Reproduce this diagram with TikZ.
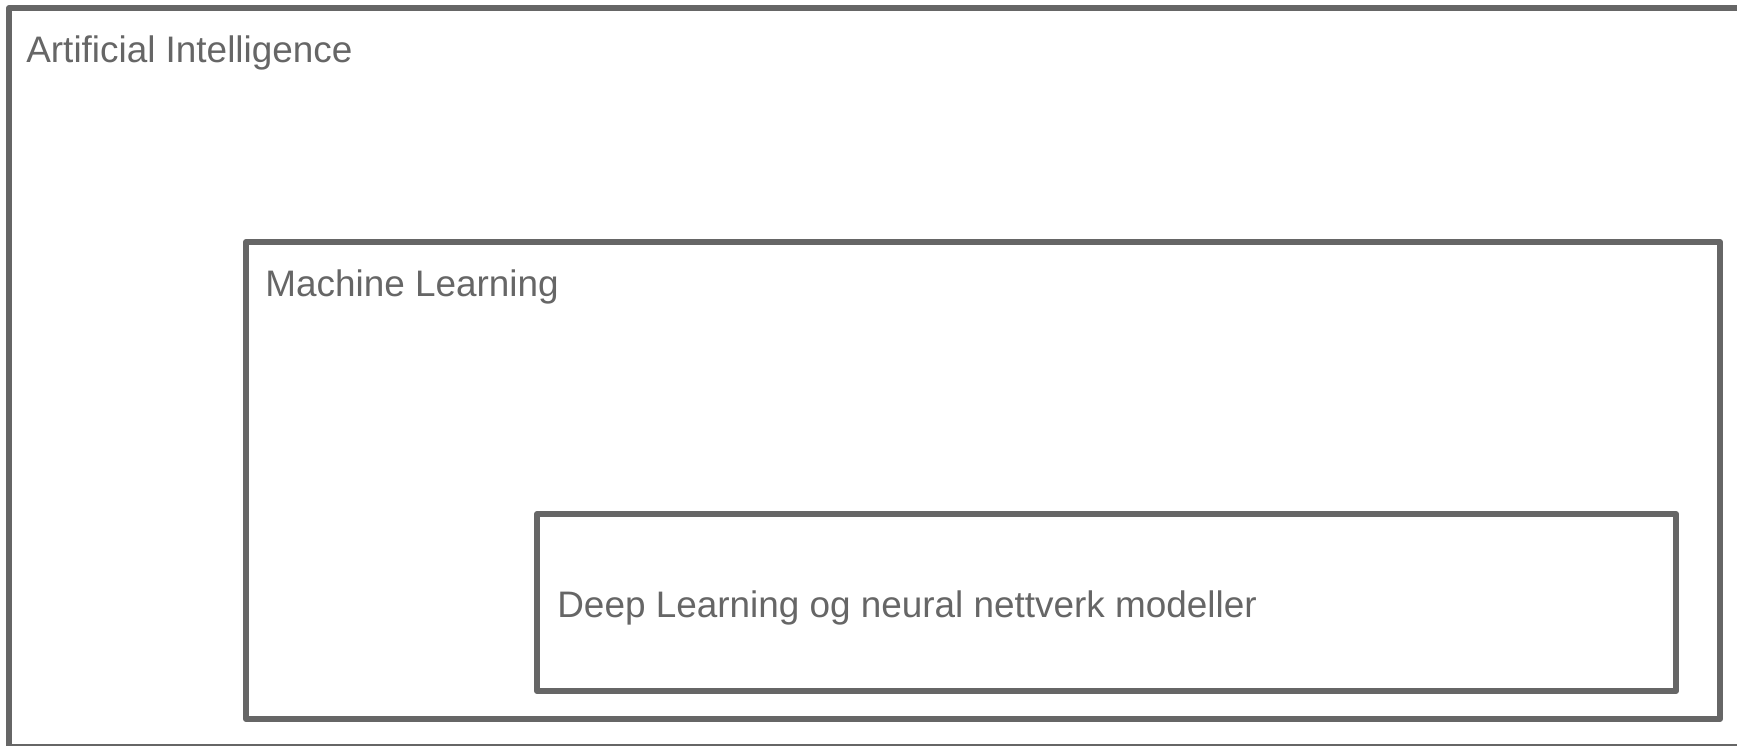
\documentclass[tikz,border=0pt]{standalone}
\usepackage{fontspec}
\setmainfont{Liberation Sans}
\definecolor{boxgray}{HTML}{666666}
\tikzset{
	area/.style={draw=boxgray, line width=0.12cm, line join=round},
	areatitle/.style={anchor=base west, inner sep=0pt, text=boxgray, font=\fontsize{21}{25}\selectfont}
}
\begin{document}
\begin{tikzpicture}[x=0.02cm,y=-0.02cm]
	\useasboundingbox (0,0) rectangle (1737,745);
	\clip (0,0) rectangle (1737,745);

	% the three nested fields
	\draw[area, fill=white] (9,8) rectangle (1741,747);
	\draw[area] (246,242) rectangle (1720,719);
	\draw[area] (537,514) rectangle (1676,691);

	\node[areatitle] (ai) at (26,62) {Artificial Intelligence};
	\node[areatitle] (ml) at (265,296) {Machine Learning};
	\node[areatitle] (dl) at (557,617) {Deep Learning og neural nettverk modeller};
\end{tikzpicture}
\end{document}
